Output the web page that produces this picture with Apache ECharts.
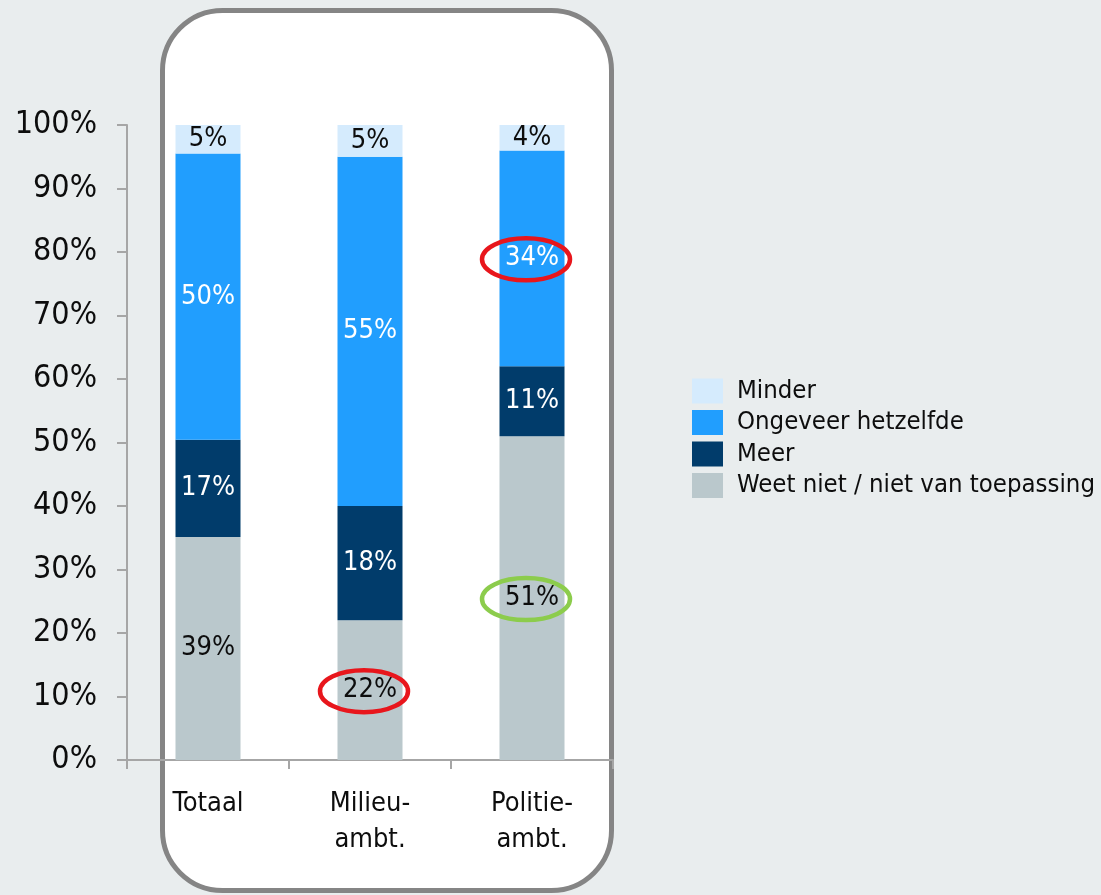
<!DOCTYPE html>
<html>
<head>
<meta charset="UTF-8">
<title>Meer of minder</title>
<script src="https://cdn.jsdelivr.net/npm/echarts@6/dist/echarts.min.js"></script>
<style>
  html, body { margin: 0; padding: 0; background: #e9edee; }
  #main { width: 1101px; height: 895px; }
</style>
</head>
<body>
<div id="main"></div>
<script type="text/javascript">
// data (labels are the raw answers, bars are stacked to 100%)
var categories = ['Totaal', 'Milieu-\nambt.', 'Politie-\nambt.'];
var weetNiet = [39, 22, 51];
var meer = [17, 18, 11];
var ongeveer = [50, 55, 34];
var minder = [5, 5, 4];
var yTicks = [0, 10, 20, 30, 40, 50, 60, 70, 80, 90, 100];

var totals = categories.map(function (c, i) {
  return weetNiet[i] + meer[i] + ongeveer[i] + minder[i];
});

function toPercent(arr) {
  return arr.map(function (v, i) { return { value: v / totals[i] * 100, raw: v }; });
}

var font = '"DejaVu Sans Condensed", "Open Sans", sans-serif';

function makeSeries(name, arr, color, labelColor) {
  return {
    name: name,
    type: 'bar',
    stack: 'all',
    barWidth: 65,
    data: toPercent(arr),
    itemStyle: { color: color },
    label: {
      show: true,
      position: 'inside',
      color: labelColor,
      fontFamily: font,
      fontSize: 27,
      formatter: function (p) { return p.data.raw + '%'; }
    },
    emphasis: { disabled: true }
  };
}

var chartDom = document.getElementById('main');
var myChart = echarts.init(chartDom);

myChart.setOption({
  backgroundColor: '#e9edee',
  animation: false,
  grid: { left: 127, right: 488, top: 125, bottom: 135 },
  legend: {
    orient: 'vertical',
    left: 687,
    top: 373,
    icon: 'rect',
    itemWidth: 31,
    itemHeight: 25,
    itemGap: 5.5,
    selectedMode: false,
    data: ['Minder', 'Ongeveer hetzelfde', 'Meer', 'Weet niet / niet van toepassing'],
    textStyle: {
      fontFamily: font,
      fontSize: 25.5,
      color: '#0d0d0d',
      lineHeight: 25,
      padding: [0, 0, 0, 9]
    }
  },
  xAxis: {
    type: 'category',
    data: categories,
    axisLine: { lineStyle: { color: '#a6a6a6', width: 2 } },
    axisTick: { show: true, length: 9, lineStyle: { color: '#a6a6a6', width: 2 } },
    axisLabel: {
      color: '#0d0d0d',
      fontFamily: font,
      fontSize: 27,
      lineHeight: 36,
      margin: 26,
      interval: 0
    }
  },
  yAxis: {
    type: 'value',
    min: yTicks[0],
    max: yTicks[yTicks.length - 1],
    interval: 10,
    splitLine: { show: false },
    axisLine: { show: true, lineStyle: { color: '#a6a6a6', width: 2 } },
    axisTick: { show: true, length: 10, lineStyle: { color: '#a6a6a6', width: 2 } },
    axisLabel: {
      color: '#0d0d0d',
      fontFamily: font,
      fontSize: 32,
      margin: 30,
      formatter: '{value}%'
    }
  },
  series: [
    makeSeries('Weet niet / niet van toepassing', weetNiet, '#bac8cc', '#0d0d0d'),
    makeSeries('Meer', meer, '#013c6b', '#ffffff'),
    makeSeries('Ongeveer hetzelfde', ongeveer, '#219efe', '#ffffff'),
    makeSeries('Minder', minder, '#d5ebfd', '#0d0d0d')
  ]
});

// circles drawn round a few labels, placed through the axes
function segMid(lower, arr, i) {
  var base = 0;
  for (var k = 0; k < lower.length; k++) base += lower[k][i] / totals[i] * 100;
  return base + arr[i] / totals[i] * 50;
}
function ring(catIdx, yVal, color) {
  var pt = myChart.convertToPixel({ gridIndex: 0 }, [catIdx, yVal]);
  return {
    type: 'ellipse',
    z: 100,
    shape: { cx: pt[0] - 6, cy: pt[1] + 1, rx: 44, ry: 21 },
    style: { fill: null, stroke: color, lineWidth: 4.5 }
  };
}

myChart.setOption({
  graphic: [
    {
      type: 'rect',
      z: -10,
      shape: { x: 162.5, y: 10.5, width: 449, height: 880, r: 60 },
      style: { fill: '#ffffff', stroke: '#858585', lineWidth: 5 }
    },
    ring(2, segMid([weetNiet, meer], ongeveer, 2), '#e8161c'),
    ring(1, segMid([], weetNiet, 1), '#e8161c'),
    ring(2, segMid([], weetNiet, 2), '#8ccc4c')
  ]
});
</script>
</body>
</html>
